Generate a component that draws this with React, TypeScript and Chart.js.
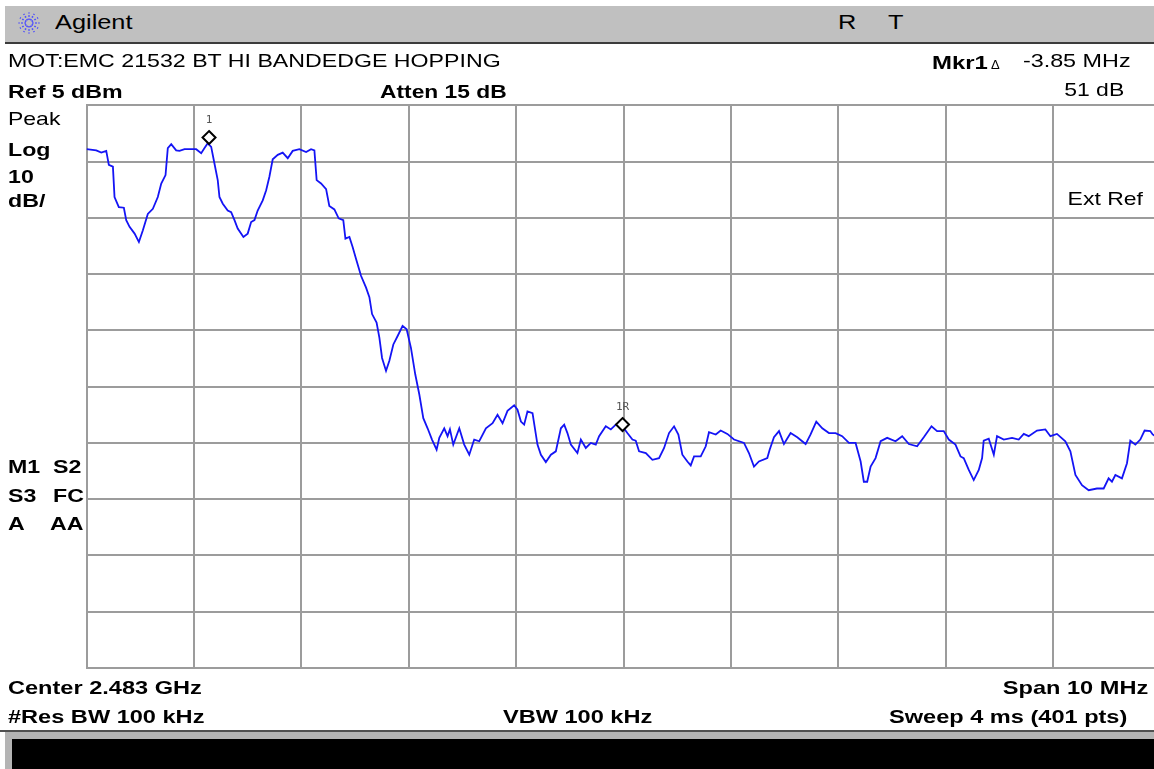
import React, { useEffect, useRef } from "react";
import { Chart, registerables } from "chart.js";

Chart.register(...registerables);

// Frequency offset from the start frequency (2.478 GHz), MHz
const freqOffsetMHz = [
  0, 0.09, 0.137, 0.183, 0.207, 0.245, 0.26, 0.3, 0.347, 0.369,
  0.4, 0.447, 0.487, 0.524, 0.57, 0.617, 0.663, 0.695, 0.735, 0.756,
  0.788, 0.834, 0.865, 0.912, 1.02, 1.067, 1.098, 1.128, 1.16, 1.19,
  1.221, 1.237, 1.268, 1.314, 1.346, 1.377, 1.407, 1.46, 1.5, 1.532,
  1.563, 1.593, 1.64, 1.672, 1.702, 1.733, 1.78, 1.826, 1.873, 1.919,
  1.981, 2.044, 2.09, 2.121, 2.142, 2.183, 2.23, 2.26, 2.307, 2.347,
  2.39, 2.41, 2.447, 2.477, 2.509, 2.555, 2.602, 2.633, 2.658, 2.7,
  2.726, 2.751, 2.788, 2.819, 2.856, 2.896, 2.942, 2.98, 3.02, 3.06,
  3.098, 3.135, 3.175, 3.216, 3.259, 3.284, 3.33, 3.361, 3.383, 3.414,
  3.47, 3.516, 3.563, 3.609, 3.656, 3.718, 3.78, 3.826, 3.873, 3.919,
  3.981, 4.012, 4.044, 4.074, 4.105, 4.152, 4.198, 4.23, 4.276, 4.323,
  4.369, 4.416, 4.447, 4.477, 4.509, 4.57, 4.602, 4.648, 4.695, 4.741,
  4.772, 4.834, 4.881, 4.927, 4.989, 5.035, 5.082, 5.113, 5.144, 5.207,
  5.268, 5.33, 5.377, 5.423, 5.47, 5.51, 5.547, 5.594, 5.625, 5.656,
  5.718, 5.765, 5.795, 5.858, 5.904, 5.966, 6.028, 6.121, 6.167, 6.214,
  6.26, 6.338, 6.36, 6.4, 6.447, 6.493, 6.555, 6.617, 6.695, 6.741,
  6.794, 6.85, 6.912, 6.974, 7.035, 7.098, 7.16, 7.207, 7.237, 7.268,
  7.3, 7.346, 7.393, 7.454, 7.532, 7.594, 7.656, 7.733, 7.795, 7.867,
  7.919, 7.981, 8.028, 8.09, 8.137, 8.167, 8.214, 8.26, 8.307, 8.338,
  8.353, 8.4, 8.447, 8.477, 8.54, 8.617, 8.679, 8.726, 8.772, 8.849,
  8.927, 8.974, 9.035, 9.113, 9.16, 9.207, 9.268, 9.33, 9.407, 9.47,
  9.516, 9.547, 9.579, 9.64, 9.687, 9.718, 9.765, 9.811, 9.851, 9.904,
  9.926, 10.0,
];

// Trace level, dBm
const levelDbm = [
  -2.8, -3.0, -3.4, -3.1, -5.6, -5.9, -11.3, -13.1, -13.2, -15.4,
  -16.6, -17.8, -19.3, -17.2, -14.3, -13.4, -11.3, -8.9, -7.4, -2.6,
  -1.9, -3.0, -3.1, -2.8, -2.8, -3.5, -2.6, -1.75, -2.4, -5.3,
  -8.3, -11.3, -12.5, -13.7, -14.0, -15.4, -16.9, -18.4, -17.8, -15.75,
  -15.4, -13.7, -11.9, -10.1, -7.7, -4.6, -3.8, -3.4, -4.4, -3.1,
  -2.8, -3.3, -2.8, -3.0, -8.3, -8.9, -9.9, -12.9, -13.5, -15.1,
  -15.4, -18.7, -18.4, -20.2, -22.3, -25.3, -27.4, -29.1, -32.1, -33.6,
  -36.3, -39.9, -42.2, -40.4, -37.5, -36.0, -34.2, -34.8, -38.1, -42.8,
  -46.4, -50.6, -52.4, -54.4, -56.2, -54.1, -52.4, -53.8, -52.6, -55.3,
  -52.4, -55.3, -57.1, -54.4, -54.7, -52.4, -51.5, -50.0, -51.5, -49.3,
  -48.3, -49.1, -51.2, -51.75, -49.4, -49.7, -55.3, -57.1, -58.4, -57.1,
  -56.5, -52.4, -51.75, -53.25, -55.3, -56.8, -54.4, -55.9, -55.0, -55.3,
  -53.8, -52.05, -52.6, -51.75, -52.05, -53.25, -54.4, -54.6, -56.5, -56.8,
  -58.0, -57.7, -55.9, -53.25, -52.05, -53.5, -57.1, -58.3, -59.0, -57.4,
  -57.4, -55.6, -53.1, -53.5, -52.8, -53.4, -54.4, -55.0, -56.8, -59.2,
  -58.3, -57.7, -56.2, -54.0, -52.9, -55.2, -53.25, -54.0, -55.2, -53.5,
  -51.2, -52.4, -53.25, -53.25, -53.8, -55.0, -55.0, -58.3, -61.9, -61.9,
  -59.2, -57.7, -54.7, -54.1, -54.7, -53.8, -55.2, -55.6, -54.0, -52.05,
  -52.9, -52.9, -54.4, -55.3, -57.4, -57.7, -59.8, -61.6, -59.8, -57.7,
  -54.6, -54.25, -57.1, -53.8, -54.4, -54.1, -54.4, -53.4, -53.8, -52.8,
  -52.6, -53.8, -53.4, -54.7, -56.5, -60.7, -62.5, -63.4, -63.1, -63.1,
  -61.3, -61.9, -60.7, -61.3, -58.6, -54.6, -55.3, -54.4, -52.8, -52.9,
  -53.5, -54.5,
];

// Markers
const markerNames = ["1", "1R"];
const markerOffsetMHz = [1.14, 4.99];
const markerLevelDbm = [-1.8, -52.8];

// Grid (10 divisions each way)
const xGridMHz = [0, 1, 2, 3, 4, 5, 6, 7, 8, 9, 10];
const yGridDbm = [5, -5, -15, -25, -35, -45, -55, -65, -75, -85, -95];

// ---- Layout ----
const CW = 1200;
const CH = 769;
const AREA = { left: 86.6, top: 105.3, right: 1160.6, bottom: 668 };
const GRID = "#9c9c9c";
const TRACE = "#1414f5";

const markerPlugin = {
  id: "saMarkers",
  afterDatasetsDraw(chart: any) {
    const meta = chart.getDatasetMeta(1);
    const ctx = chart.ctx;
    meta.data.forEach((pt: any, i: number) => {
      const x = pt.x;
      const cy = pt.y - 6;
      const r = 6.5;
      ctx.save();
      ctx.beginPath();
      ctx.moveTo(x, cy - r);
      ctx.lineTo(x + r, cy);
      ctx.lineTo(x, cy + r);
      ctx.lineTo(x - r, cy);
      ctx.closePath();
      ctx.fillStyle = "#ffffff";
      ctx.fill();
      ctx.lineWidth = 2;
      ctx.strokeStyle = "#000000";
      ctx.stroke();
      ctx.font = '11px "DejaVu Sans Mono"';
      ctx.fillStyle = "#555555";
      ctx.textAlign = "center";
      ctx.textBaseline = "middle";
      ctx.fillText(markerNames[i], x, cy - r - 11);
      ctx.restore();
    });
  },
};

type TxtProps = {
  x?: number;
  r?: number;
  cy: number;
  size: number;
  bold?: boolean;
  sx: number;
  children: string;
};

function Txt({ x, r, cy, size, bold, sx, children }: TxtProps) {
  const style: React.CSSProperties = {
    position: "absolute",
    top: cy - size * 0.49,
    fontSize: size,
    lineHeight: size + "px",
    fontFamily: '"Liberation Sans", Arial, sans-serif',
    fontWeight: bold ? 700 : 400,
    whiteSpace: "nowrap",
    color: "#000",
    transform: `scaleX(${sx})`,
    transformOrigin: r !== undefined ? "right center" : "left center",
  };
  if (r !== undefined) style.right = 1154 - r;
  else style.left = x;
  return <div style={style}>{children}</div>;
}

function Logo() {
  const rays = [];
  for (let k = 0; k < 12; k++) {
    const a = (k * Math.PI) / 6;
    rays.push(
      <line
        key={k}
        x1={11 + Math.cos(a) * 3}
        y1={11 + Math.sin(a) * 3}
        x2={11 + Math.cos(a) * 10.5}
        y2={11 + Math.sin(a) * 10.5}
        stroke="#4a4aff"
        strokeWidth={1.6}
        strokeDasharray="1.6 1.6"
      />
    );
  }
  return (
    <svg width={22} height={22} style={{ position: "absolute", left: 18, top: 12 }}>
      {rays}
    </svg>
  );
}

export default function App() {
  const ref = useRef<HTMLCanvasElement | null>(null);

  useEffect(() => {
    if (!ref.current) return;
    const n = Math.min(freqOffsetMHz.length, levelDbm.length);
    const trace = [];
    for (let i = 0; i < n; i++) trace.push({ x: freqOffsetMHz[i], y: levelDbm[i] });
    const markers = markerOffsetMHz.map((f, i) => ({ x: f, y: markerLevelDbm[i] }));

    const gridOpts = { color: GRID, lineWidth: 2, drawTicks: false };
    const chart = new Chart(ref.current, {
      type: "line",
      data: {
        datasets: [
          {
            data: trace,
            borderColor: TRACE,
            borderWidth: 1.8,
            pointRadius: 0,
            tension: 0,
            fill: false,
          },
          {
            data: markers,
            showLine: false,
            pointRadius: 0,
            borderColor: "#000",
          },
        ],
      },
      options: {
        responsive: false,
        animation: false,
        maintainAspectRatio: false,
        layout: {
          padding: {
            left: AREA.left,
            top: AREA.top,
            right: CW - AREA.right,
            bottom: CH - AREA.bottom,
          },
        },
        plugins: {
          legend: { display: false },
          tooltip: { enabled: false },
        },
        scales: {
          x: {
            type: "linear",
            min: xGridMHz[0],
            max: xGridMHz[xGridMHz.length - 1],
            ticks: { display: false },
            grid: gridOpts,
            border: { display: true, color: GRID, width: 2 },
            afterBuildTicks: (s: any) => {
              s.ticks = xGridMHz.map((v) => ({ value: v }));
            },
          },
          y: {
            type: "linear",
            min: yGridDbm[yGridDbm.length - 1],
            max: yGridDbm[0],
            ticks: { display: false },
            grid: gridOpts,
            border: { display: true, color: GRID, width: 2 },
            afterBuildTicks: (s: any) => {
              s.ticks = yGridDbm.map((v) => ({ value: v }));
            },
          },
        },
      },
      plugins: [markerPlugin],
    } as any);
    return () => chart.destroy();
  }, []);

  const B = 19;
  const BS = 1.22;
  const R = 17.7;
  const RS = 1.31;

  return (
    <div
      style={{
        position: "fixed",
        left: 0,
        top: 0,
        width: 1154,
        height: 769,
        overflow: "hidden",
        background: "#fff",
      }}
    >
      {/* title bar */}
      <div style={{ position: "absolute", left: 5, top: 6, right: 0, height: 36, background: "#c0c0c0" }} />
      <div style={{ position: "absolute", left: 5, top: 42, right: 0, height: 2, background: "#3c3c3c" }} />
      <Logo />
      <Txt x={55} cy={23} size={19.5} sx={1.3}>Agilent</Txt>
      <Txt x={838} cy={23} size={19.5} sx={1.3}>R</Txt>
      <Txt x={888} cy={23} size={19.5} sx={1.3}>T</Txt>

      <canvas
        ref={ref}
        width={CW}
        height={CH}
        style={{ position: "absolute", left: 0, top: 0, width: CW, height: CH }}
      />

      <Txt x={8} cy={62} size={R} sx={RS}>MOT:EMC 21532 BT HI BANDEDGE HOPPING</Txt>
      <Txt x={932} cy={62} size={B} bold sx={1.26}>Mkr1</Txt>
      <Txt x={991} cy={64} size={13} sx={1}>Δ</Txt>
      <Txt r={1131} cy={62} size={R} sx={1.32}>-3.85 MHz</Txt>

      <Txt x={8} cy={91} size={B} bold sx={BS}>Ref 5 dBm</Txt>
      <Txt x={380} cy={91} size={B} bold sx={1.2}>Atten 15 dB</Txt>
      <Txt r={1124} cy={91} size={R} sx={1.3}>51 dB</Txt>

      <Txt x={8} cy={119.5} size={R} sx={1.3}>Peak</Txt>
      <Txt x={8} cy={149} size={B} bold sx={BS}>Log</Txt>
      <Txt x={8} cy={176.7} size={B} bold sx={BS}>10</Txt>
      <Txt x={8} cy={200.5} size={B} bold sx={BS}>dB/</Txt>
      <Txt r={1143} cy={200} size={R} sx={1.3}>Ext Ref</Txt>

      <Txt x={8} cy={466} size={B} bold sx={BS}>M1</Txt>
      <Txt x={53} cy={466} size={B} bold sx={BS}>S2</Txt>
      <Txt x={8} cy={495} size={B} bold sx={BS}>S3</Txt>
      <Txt x={53} cy={495} size={B} bold sx={BS}>FC</Txt>
      <Txt x={8} cy={523.5} size={B} bold sx={BS}>A</Txt>
      <Txt x={50} cy={523.5} size={B} bold sx={BS}>AA</Txt>

      <Txt x={8} cy={687} size={B} bold sx={1.24}>Center 2.483 GHz</Txt>
      <Txt r={1148} cy={687} size={B} bold sx={1.24}>Span 10 MHz</Txt>
      <Txt x={8} cy={716} size={B} bold sx={1.24}>#Res BW 100 kHz</Txt>
      <Txt x={503} cy={716} size={B} bold sx={1.24}>VBW 100 kHz</Txt>
      <Txt x={889} cy={716} size={B} bold sx={1.24}>Sweep 4 ms (401 pts)</Txt>

      {/* bottom status strip */}
      <div style={{ position: "absolute", left: 0, top: 730, right: 0, height: 2, background: "#505050" }} />
      <div style={{ position: "absolute", left: 5, top: 732, right: 0, bottom: 0, background: "#b4b4b4" }} />
      <div style={{ position: "absolute", left: 12, top: 739, right: 0, bottom: 0, background: "#000" }} />
    </div>
  );
}
